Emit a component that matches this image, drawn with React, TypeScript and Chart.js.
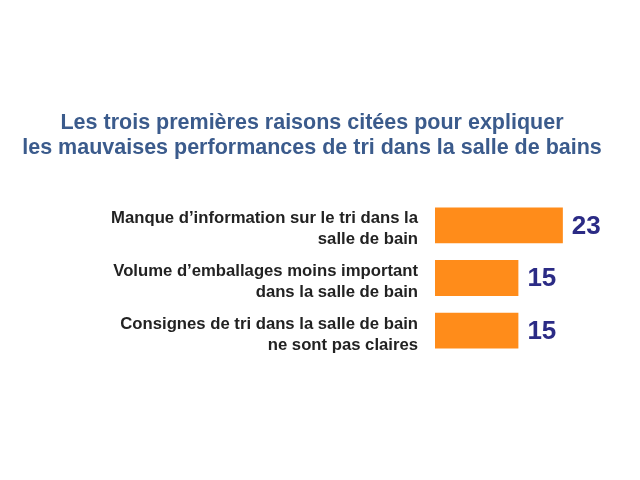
import React, { useEffect, useRef } from "react";
import { Chart, registerables } from "chart.js";

Chart.register(...registerables);

const titleLines = [
  "Les trois premières raisons citées pour expliquer",
  "les mauvaises performances de tri dans la salle de bains",
];
const categories = [
  ["Manque d’information sur le tri dans la", "salle de bain"],
  ["Volume d’emballages moins important", "dans la salle de bain"],
  ["Consignes de tri dans la salle de bain", "ne sont pas claires"],
];
const values = [23, 15, 15];

const valueLabels = {
  id: "valueLabels",
  afterDatasetsDraw(chart: any) {
    const ctx = chart.ctx;
    const meta = chart.getDatasetMeta(0);
    ctx.save();
    ctx.font = "bold 26px 'Liberation Sans', Arial, sans-serif";
    ctx.fillStyle = "#2b2b85";
    ctx.textAlign = "left";
    ctx.textBaseline = "middle";
    meta.data.forEach((bar: any, i: number) => {
      ctx.fillText(String(values[i]), bar.x + 9, bar.y + 1);
    });
    ctx.restore();
  },
};

export default function App() {
  const ref = useRef<HTMLCanvasElement>(null);
  useEffect(() => {
    if (!ref.current) return;
    const chart = new Chart(ref.current, {
      type: "bar",
      data: {
        labels: categories,
        datasets: [
          {
            data: values,
            backgroundColor: "#ff8c1a",
            borderWidth: 0,
            barPercentage: 0.68,
            categoryPercentage: 1,
          },
        ],
      },
      options: {
        indexAxis: "y",
        animation: false,
        responsive: false,
        layout: { padding: { left: 0, right: 16, top: 111, bottom: 123 } },
        plugins: {
          legend: { display: false },
          tooltip: { enabled: false },
          title: {
            display: true,
            text: titleLines,
            color: "#3b5b8c",
            font: { family: "'Liberation Sans', Arial, sans-serif", size: 21.5, weight: "bold", lineHeight: 1.163 },
            padding: { top: 0, bottom: 38 },
          },
        },
        scales: {
          x: { display: false, min: 0, max: 34 },
          y: {
            grid: { display: false, drawTicks: false },
            border: { display: false },
            ticks: {
              color: "#222222",
              padding: 17,
              labelOffset: 4,
              font: { family: "'Liberation Sans', Arial, sans-serif", size: 16.7, weight: "bold", lineHeight: 1.26 },
            },
            afterFit(scale: any) {
              scale.width = 435;
            },
          },
        },
      },
      plugins: [valueLabels],
    });
    return () => chart.destroy();
  }, []);
  return (
    <div style={{ position: "absolute", left: 0, top: 0, width: 640, height: 480, background: "#fff" }}>
      <canvas ref={ref} width={640} height={480} />
    </div>
  );
}
